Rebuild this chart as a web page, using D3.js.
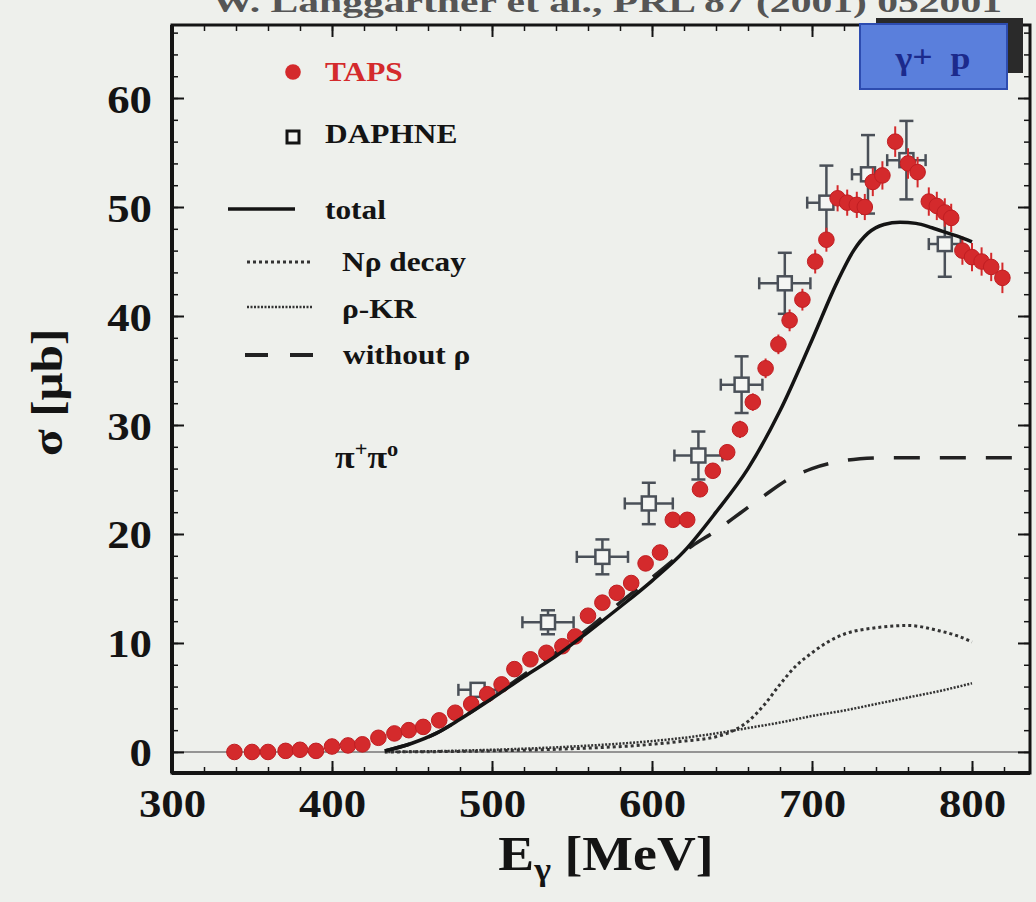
<!DOCTYPE html>
<html>
<head>
<meta charset="utf-8">
<script src="https://cdn.jsdelivr.net/npm/d3@7"></script>
<style>
html, body { margin: 0; padding: 0; background: #eef0ec; }
svg { display: block; }
text { font-family: "Liberation Serif", "DejaVu Serif", serif; font-weight: bold; }
</style>
</head>
<body>
<svg id="chart" width="1036" height="902"></svg>
<script>
/* ── data ── */
const tapsE   = [339, 350, 360, 371, 380, 390, 400, 410, 419, 429, 439, 448, 457, 467, 477, 487, 497, 506, 514, 524,
                 534, 544, 552, 560, 569, 578, 587, 596, 605, 613, 622, 630, 638, 647, 655, 663, 671, 679, 686, 694,
                 702, 709, 716, 722, 728, 733, 738, 744, 752, 760, 766, 773, 778, 783, 787, 794, 800, 806, 812, 819];
const tapsSig = [0.0, 0.0, 0.0, 0.1, 0.2, 0.1, 0.5, 0.6, 0.7, 1.3, 1.7, 2.0, 2.3, 2.9, 3.6, 4.4, 5.3, 6.2, 7.6, 8.5,
                 9.1, 9.7, 10.6, 12.5, 13.7, 14.6, 15.5, 17.3, 18.3, 21.3, 21.3, 24.1, 25.8, 27.5, 29.6, 32.1, 35.2, 37.4, 39.6, 41.5,
                 45.0, 47.0, 50.8, 50.4, 50.2, 50.0, 52.3, 52.9, 56.0, 54.0, 53.2, 50.5, 50.1, 49.5, 49.0, 46.0, 45.4, 45.0, 44.5, 43.5];
const tapsErr = [0.2, 0.2, 0.2, 0.2, 0.2, 0.2, 0.2, 0.2, 0.2, 0.3, 0.3, 0.3, 0.3, 0.3, 0.3, 0.3, 0.4, 0.4, 0.4, 0.4,
                 0.4, 0.4, 0.5, 0.5, 0.5, 0.5, 0.5, 0.5, 0.6, 0.6, 0.6, 0.7, 0.7, 0.7, 0.8, 0.8, 0.9, 0.9, 1.0, 1.0,
                 1.1, 1.1, 1.2, 1.2, 1.2, 1.2, 1.3, 1.3, 1.4, 1.4, 1.4, 1.3, 1.3, 1.3, 1.3, 1.3, 1.3, 1.3, 1.3, 1.4];

const daphE    = [491, 535, 569, 598, 629, 656, 683, 709, 735, 759, 783];
const daphSig  = [5.7, 11.9, 17.9, 22.8, 27.2, 33.7, 43.0, 50.4, 53.0, 54.3, 46.6];
const daphXErr = [12, 16, 16, 15, 15, 13, 16, 12, 10, 12, 10];
const daphYErr = [0.6, 1.1, 1.6, 1.9, 2.2, 2.6, 2.8, 3.4, 3.6, 3.6, 3.0];

const totalE   = [433, 450, 465, 480, 500, 520, 540, 560, 580, 600, 620, 640, 660, 680, 700, 716, 726, 735, 745, 755, 765, 775, 785, 795, 800];
const totalSig = [0.1, 0.8, 1.7, 3.0, 4.9, 6.9, 8.8, 11.0, 13.3, 15.7, 18.4, 22.0, 26.0, 31.3, 37.8, 43.2, 46.0, 47.6, 48.4, 48.6, 48.5, 48.1, 47.6, 47.1, 46.8];

const noRhoE   = [433, 450, 465, 480, 500, 520, 540, 560, 580, 600, 625, 640, 655, 670, 685, 700, 715, 730, 745, 760, 800, 836];
const noRhoSig = [0.1, 0.8, 1.7, 3.0, 5.0, 7.1, 9.1, 11.3, 13.7, 16.0, 18.9, 20.3, 21.9, 23.5, 25.0, 26.0, 26.6, 26.9, 27.0, 27.0, 27.0, 27.0];

const nRhoE    = [433, 500, 550, 600, 620, 640, 650, 660, 670, 680, 690, 700, 710, 720, 740, 760, 780, 790, 800];
const nRhoSig  = [0.0, 0.1, 0.3, 0.7, 1.0, 1.4, 1.9, 2.8, 4.3, 6.2, 7.9, 9.1, 10.1, 10.8, 11.4, 11.6, 11.1, 10.7, 10.1];

const rhoKrE   = [433, 500, 550, 600, 620, 640, 660, 680, 700, 720, 740, 760, 780, 800];
const rhoKrSig = [0.0, 0.2, 0.5, 1.0, 1.3, 1.7, 2.2, 2.7, 3.3, 3.8, 4.4, 5.0, 5.6, 6.3];

const xTicks = [300, 400, 500, 600, 700, 800];
const yTicks = [0, 10, 20, 30, 40, 50, 60];

/* ── layout ── */
const L = 172, R = 1030, T = 25, B = 773;
const SX = 1.12;   // glyphs in the scan are a bit wide
const RED = '#d42a2c';
const INK = '#141414';

const svg = d3.select('#chart');
svg.append('rect').attr('width', 1036).attr('height', 902).attr('fill', '#eef0ec');

const x = d3.scaleLinear().domain([300, 836.25]).range([L, R]);
const y = d3.scaleLinear().domain([-1.93, 66.7]).range([B, T]);

/* cropped caption above the frame (cut off in the scan too) */
svg.append('text')
    .attr('x', 212).attr('y', 12)
    .attr('textLength', 790).attr('lengthAdjust', 'spacingAndGlyphs')
    .attr('font-size', 30).attr('font-weight', 'normal')
    .attr('fill', '#555')
    .text('W. Langgärtner et al., PRL 87 (2001) 052001');

const plot = svg.append('g');

/* zero line */
plot.append('line')
    .attr('x1', L).attr('x2', R)
    .attr('y1', y(0)).attr('y2', y(0))
    .attr('stroke', '#777').attr('stroke-width', 1.5);

/* ── theory curves ── */
const line = d3.line().x(d => x(d[0])).y(d => y(d[1])).curve(d3.curveMonotoneX);
const zip = (a, b) => a.map((v, i) => [v, b[i]]);

plot.append('path').attr('d', line(zip(rhoKrE, rhoKrSig)))
    .attr('fill', 'none').attr('stroke', '#333').attr('stroke-width', 2.5)
    .attr('stroke-dasharray', '2,1.5');
plot.append('path').attr('d', line(zip(nRhoE, nRhoSig)))
    .attr('fill', 'none').attr('stroke', '#333').attr('stroke-width', 3)
    .attr('stroke-dasharray', '3,3');
plot.append('path').attr('d', line(zip(noRhoE, noRhoSig)))
    .attr('fill', 'none').attr('stroke', '#222').attr('stroke-width', 3.5)
    .attr('stroke-dasharray', '26,20');

/* ── DAPHNE open squares ── */
const daph = daphE.map((e, i) => ({ e, s: daphSig[i], dx: daphXErr[i], dy: daphYErr[i] }));
const dG = plot.append('g').attr('stroke', '#4a5058').attr('stroke-width', 2.5).attr('fill', 'none');
daph.forEach(d => {
    const cx = x(d.e), cy = y(d.s);
    const x1 = x(d.e - d.dx), x2 = x(d.e + d.dx), y1 = y(d.s + d.dy), y2 = y(d.s - d.dy);
    dG.append('line').attr('x1', x1).attr('x2', x2).attr('y1', cy).attr('y2', cy);
    dG.append('line').attr('x1', cx).attr('x2', cx).attr('y1', y1).attr('y2', y2);
    dG.append('line').attr('x1', x1).attr('x2', x1).attr('y1', cy - 6).attr('y2', cy + 6);
    dG.append('line').attr('x1', x2).attr('x2', x2).attr('y1', cy - 6).attr('y2', cy + 6);
    dG.append('line').attr('x1', cx - 7).attr('x2', cx + 7).attr('y1', y1).attr('y2', y1);
    dG.append('line').attr('x1', cx - 7).attr('x2', cx + 7).attr('y1', y2).attr('y2', y2);
    dG.append('rect').attr('x', cx - 7).attr('y', cy - 7).attr('width', 14).attr('height', 14)
        .attr('fill', '#f4f5f3');
});

/* ── TAPS filled circles ── */
const taps = tapsE.map((e, i) => ({ e, s: tapsSig[i], err: tapsErr[i] }));
plot.append('g').selectAll('line').data(taps).join('line')
    .attr('x1', d => x(d.e)).attr('x2', d => x(d.e))
    .attr('y1', d => y(d.s + d.err)).attr('y2', d => y(d.s - d.err))
    .attr('stroke', RED).attr('stroke-width', 2);
plot.append('g').selectAll('circle').data(taps).join('circle')
    .attr('cx', d => x(d.e)).attr('cy', d => y(d.s)).attr('r', 7.8)
    .attr('fill', RED).attr('stroke', '#c01e22').attr('stroke-width', 1);

/* total on top */
plot.append('path').attr('d', line(zip(totalE, totalSig)))
    .attr('fill', 'none').attr('stroke', INK).attr('stroke-width', 3.5);

/* ── frame and ticks ── */
svg.append('rect').attr('x', L).attr('y', T).attr('width', R - L).attr('height', B - T)
    .attr('fill', 'none').attr('stroke', INK).attr('stroke-width', 3);
svg.append('line').attr('x1', L).attr('x2', R).attr('y1', B).attr('y2', B)
    .attr('stroke', INK).attr('stroke-width', 4);
svg.append('line').attr('x1', L).attr('x2', L).attr('y1', T).attr('y2', B)
    .attr('stroke', INK).attr('stroke-width', 4);

const xMinor = d3.range(300, 837, 20);
const yMinor = d3.range(0, 67, 2);

// minor ticks on all four sides
[[d3.axisBottom(x), `translate(0,${B})`, xMinor],
 [d3.axisTop(x),    `translate(0,${T})`, xMinor],
 [d3.axisLeft(y),   `translate(${L},0)`, yMinor],
 [d3.axisRight(y),  `translate(${R},0)`, yMinor]].forEach(([ax, tr, vals]) => {
    const g = svg.append('g').attr('transform', tr)
        .call(ax.tickValues(vals).tickSize(-6).tickFormat(''));
    g.select('.domain').remove();
    g.selectAll('line').attr('stroke', INK).attr('stroke-width', 1.5);
});

// major ticks without labels on top/right
[[d3.axisTop(x),   `translate(0,${T})`, xTicks],
 [d3.axisRight(y), `translate(${R},0)`, yTicks]].forEach(([ax, tr, vals]) => {
    const g = svg.append('g').attr('transform', tr)
        .call(ax.tickValues(vals).tickSize(-12).tickFormat(''));
    g.select('.domain').remove();
    g.selectAll('line').attr('stroke', INK).attr('stroke-width', 2);
});

// labelled axes
const xAxisG = svg.append('g').attr('transform', `translate(0,${B})`)
    .call(d3.axisBottom(x).tickValues(xTicks).tickSize(-12).tickPadding(14).tickFormat(d3.format('d')));
const yAxisG = svg.append('g').attr('transform', `translate(${L},0)`)
    .call(d3.axisLeft(y).tickValues(yTicks).tickSize(-12).tickPadding(20).tickFormat(d3.format('d')));

[xAxisG, yAxisG].forEach(g => {
    g.select('.domain').remove();
    g.selectAll('line').attr('stroke', INK).attr('stroke-width', 2);
    g.selectAll('text')
        .attr('font-size', 40).attr('fill', INK)
        .attr('font-family', '"Liberation Serif", "DejaVu Serif", serif')
        .attr('font-weight', 'bold')
        .attr('transform', `scale(${SX},1)`);
});
yAxisG.selectAll('text').attr('x', -20 / SX).attr('dy', '0.35em');
xAxisG.selectAll('text').attr('dy', '0.75em');

/* axis titles */
svg.append('text')
    .attr('transform', `translate(62,${y(33)}) rotate(-90) scale(${SX},1)`)
    .attr('text-anchor', 'middle').attr('font-size', 44).attr('fill', INK)
    .text('σ [μb]');

const xt = svg.append('text')
    .attr('transform', `translate(606,870) scale(${SX},1)`)
    .attr('text-anchor', 'middle').attr('font-size', 48).attr('fill', INK);
xt.append('tspan').text('E');
xt.append('tspan').attr('font-size', 32).attr('dy', 10).text('γ');
xt.append('tspan').attr('dy', -10).text(' [MeV]');

/* ── legend ── */
const leg = svg.append('g');
function legText(tx, ty, str, color) {
    return leg.append('text').attr('transform', `translate(${tx},${ty}) scale(${SX},1)`)
        .attr('font-size', 28).attr('fill', color || INK).text(str);
}
leg.append('circle').attr('cx', 293).attr('cy', 72).attr('r', 7.8).attr('fill', RED);
legText(325, 81, 'TAPS', RED);
leg.append('rect').attr('x', 287).attr('y', 131).attr('width', 12).attr('height', 12)
    .attr('fill', '#f4f5f3').attr('stroke', INK).attr('stroke-width', 3);
legText(325, 143, 'DAPHNE');
leg.append('line').attr('x1', 228).attr('x2', 295).attr('y1', 209).attr('y2', 209)
    .attr('stroke', INK).attr('stroke-width', 3.5);
legText(325, 219, 'total');
leg.append('line').attr('x1', 247).attr('x2', 313).attr('y1', 262).attr('y2', 262)
    .attr('stroke', '#333').attr('stroke-width', 3).attr('stroke-dasharray', '3,3');
legText(342, 271, 'Nρ decay');
leg.append('line').attr('x1', 247).attr('x2', 313).attr('y1', 307).attr('y2', 307)
    .attr('stroke', '#333').attr('stroke-width', 2.5).attr('stroke-dasharray', '2,1.5');
legText(342, 318, 'ρ-KR');
leg.append('line').attr('x1', 245).attr('x2', 313).attr('y1', 355).attr('y2', 355)
    .attr('stroke', '#222').attr('stroke-width', 4).attr('stroke-dasharray', '23,22');
legText(343, 364, 'without ρ');

/* reaction label */
const pi = svg.append('text')
    .attr('transform', `translate(335,468) scale(${SX},1)`)
    .attr('font-size', 32).attr('fill', INK);
pi.append('tspan').text('π');
pi.append('tspan').attr('font-size', 20).attr('dy', -12).text('+');
pi.append('tspan').attr('dy', 12).text('π');
pi.append('tspan').attr('font-size', 20).attr('dy', -12).text('o');

/* ── γ + p box ── */
svg.append('rect').attr('x', 876).attr('y', 18).attr('width', 147).attr('height', 55).attr('fill', '#2a2a2a');
svg.append('rect').attr('x', 860).attr('y', 24).attr('width', 147).attr('height', 65)
    .attr('fill', '#5a7fdc').attr('stroke', '#2d4cb0').attr('stroke-width', 2);
const gp = svg.append('text')
    .attr('transform', `translate(933,69) scale(${SX},1)`)
    .attr('text-anchor', 'middle').attr('font-size', 32).attr('fill', '#1c2a8c');
gp.append('tspan').text('γ');
gp.append('tspan').attr('dy', -2).text('+');
gp.append('tspan').attr('dy', 2).text('\u2002p');
</script>
</body>
</html>
